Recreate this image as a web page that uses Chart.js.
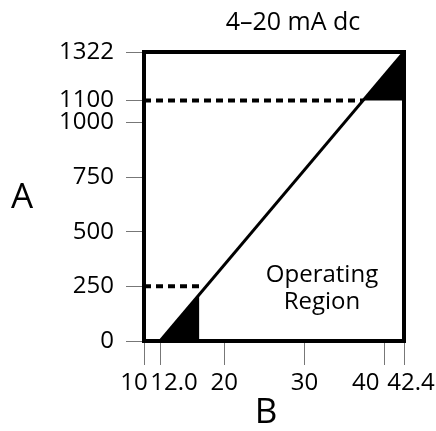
<!DOCTYPE html>
<html>
<head>
<meta charset="utf-8">
<script src="https://cdn.jsdelivr.net/npm/chart.js@4"></script>
<style>
  html, body { margin: 0; padding: 0; background: #fff; }
  #wrap { width: 436px; height: 431px; }
</style>
</head>
<body>
<div id="wrap"><canvas id="chart"></canvas></div>
<script>
// ================================
//            DATA
// ================================
const xTicks = [10, 12.0, 20, 30, 40, 42.4];
const xTickLabels = ["10", "12.0", "20", "30", "40", "42.4"];
const yTicks = [0, 250, 500, 750, 1000, 1100, 1322];

// operating line, 12 mA -> 0, 42.4 -> 1322
const lineX = [12.0, 42.4];
const lineY = [0, 1322];

// black corners
const lowCornerX = [12.0, 16.9];
const lowCornerY = [0, 215];
const highCornerX = [37.3, 42.4];
const highCornerY = [1100, 1322];

// dashed guides
const guideHighX = [10, 37.3];
const guideHighY = [1100, 1100];
const guideLowX = [10, 16.9];
const guideLowY = [250, 250];

const titleText = "4–20 mA dc";
const yAxisName = "A";
const xAxisName = "B";
const regionText = ["Operating", "Region"];

// ================================
//            HELPERS
// ================================
const FONT = "'Open Sans', 'Noto Sans', sans-serif";
const pts = (xs, ys) => xs.map((x, i) => ({ x: x, y: ys[i] }));

// nudge crowded x labels sideways (pixels)
const labelNudge = { 10: -10, 12: 14, 40: -19, 42.4: 7 };

const decorPlugin = {
  id: "decor",
  afterDraw(chart) {
    const ctx = chart.ctx;
    const ca = chart.chartArea;
    const xs = chart.scales.x;

    ctx.save();
    // frame
    ctx.strokeStyle = "#000";
    ctx.lineWidth = 4;
    ctx.strokeRect(ca.left, ca.top, ca.right - ca.left, ca.bottom - ca.top);

    ctx.fillStyle = "#000";
    ctx.textBaseline = "middle";
    ctx.textAlign = "center";

    // x tick labels
    ctx.font = "24px " + FONT;
    xTicks.forEach((v, i) => {
      const px = xs.getPixelForValue(v) + (labelNudge[v] || 0);
      ctx.fillText(xTickLabels[i], px, ca.bottom + 42);
    });

    // region text
    ctx.fillText(regionText[0], 322, 275);
    ctx.fillText(regionText[1], 322, 302);

    // title
    ctx.font = "25px " + FONT;
    ctx.fillText(titleText, 293, 23);

    // axis names
    ctx.font = "35px " + FONT;
    ctx.fillText(yAxisName, 22, 198);
    ctx.fillText(xAxisName, 266, 413);
    ctx.restore();
  },
};

// ================================
//            CHART
// ================================
const blackFill = {
  showLine: true,
  borderWidth: 0,
  borderColor: "#000",
  backgroundColor: "#000",
  pointRadius: 0,
};

new Chart(document.getElementById("chart"), {
  type: "scatter",
  data: {
    datasets: [
      Object.assign({ data: pts(lowCornerX, lowCornerY), fill: "origin" }, blackFill),
      Object.assign({ data: pts(highCornerX, highCornerY), fill: { value: 1100 } }, blackFill),
      {
        data: pts(lineX, lineY),
        showLine: true,
        borderColor: "#000",
        borderWidth: 3,
        pointRadius: 0,
        fill: false,
      },
      {
        data: pts(guideHighX, guideHighY),
        showLine: true,
        borderColor: "#000",
        borderWidth: 4,
        borderDash: [7, 5],
        pointRadius: 0,
        fill: false,
      },
      {
        data: pts(guideLowX, guideLowY),
        showLine: true,
        borderColor: "#000",
        borderWidth: 4,
        borderDash: [7, 5],
        pointRadius: 0,
        fill: false,
      },
    ],
  },
  options: {
    responsive: true,
    maintainAspectRatio: false,
    animation: false,
    layout: { padding: { top: 52, right: 32, left: 0, bottom: 0 } },
    plugins: {
      legend: { display: false },
      tooltip: { enabled: false },
      title: { display: false },
    },
    scales: {
      x: {
        type: "linear",
        min: 10,
        max: 42.4,
        afterBuildTicks: (s) => { s.ticks = xTicks.map((v) => ({ value: v })); },
        afterFit: (s) => { s.height = 90; },
        border: { display: false },
        grid: {
          drawOnChartArea: false,
          drawTicks: true,
          tickLength: 24,
          color: "#777",
          lineWidth: 1,
        },
        ticks: {
          autoSkip: false,
          maxRotation: 0,
          color: "rgba(0,0,0,0)",
          font: { family: FONT, size: 24 },
          callback: (v) => xTickLabels[xTicks.indexOf(v)] ?? "",
        },
      },
      y: {
        type: "linear",
        min: 0,
        max: 1322,
        afterBuildTicks: (s) => { s.ticks = yTicks.map((v) => ({ value: v })); },
        afterFit: (s) => { s.width = 144; },
        border: { display: false },
        grid: {
          drawOnChartArea: false,
          drawTicks: true,
          tickLength: 18,
          color: "#777",
          lineWidth: 1,
        },
        ticks: {
          autoSkip: false,
          padding: 12,
          color: "#000",
          font: { family: FONT, size: 24 },
          callback: (v) => String(v),
        },
      },
    },
  },
  plugins: [decorPlugin],
});
</script>
</body>
</html>
